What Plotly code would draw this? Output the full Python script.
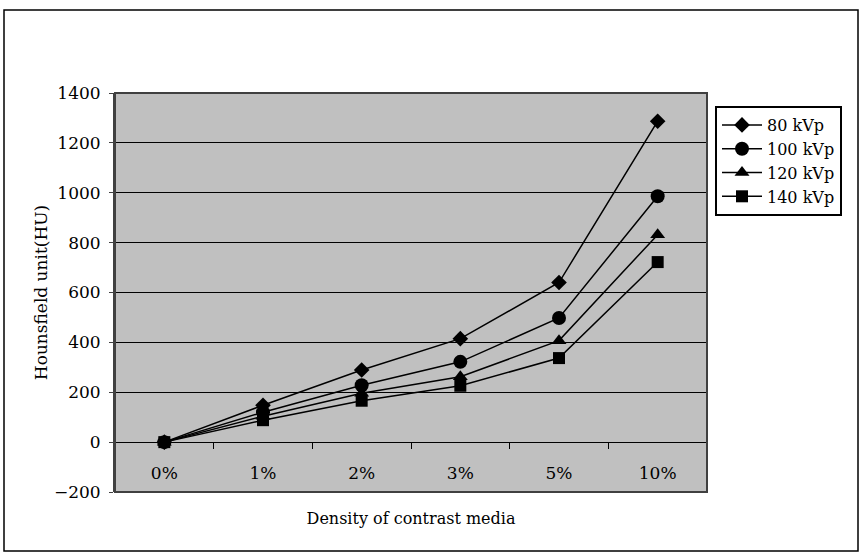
import plotly.graph_objects as go

categories = ["0%", "1%", "2%", "3%", "5%", "10%"]
kvp80 = [0, 148, 289, 415, 640, 1287]
kvp100 = [0, 120, 228, 322, 498, 986]
kvp120 = [0, 104, 196, 262, 407, 832]
kvp140 = [0, 88, 166, 226, 337, 722]
series_names = ["80 kVp", "100 kVp", "120 kVp", "140 kVp"]
y_ticks = [-200, 0, 200, 400, 600, 800, 1000, 1200, 1400]

FONT = "DejaVu Serif"
series = [kvp80, kvp100, kvp120, kvp140]
symbols = ["diamond", "circle", "triangle-up", "square"]
sizes = [12, 14, 13, 12]

fig = go.Figure()
for name, vals, sym, sz in zip(series_names, series, symbols, sizes):
    fig.add_trace(go.Scatter(
        x=categories, y=vals, name=name, mode="lines+markers",
        line=dict(color="black", width=1.5),
        marker=dict(symbol=sym, size=sz, color="black"),
    ))

fig.update_layout(
    width=861, height=560,
    margin=dict(l=115, r=154, t=93, b=68, autoexpand=False),
    paper_bgcolor="white",
    plot_bgcolor="#C0C0C0",
    font=dict(family=FONT, color="black", size=16),
    showlegend=True,
    legend=dict(
        xref="container", yref="container",
        x=715 / 861, y=1 - 106 / 560, xanchor="left", yanchor="top",
        bgcolor="white", bordercolor="black", borderwidth=2,
        font=dict(family=FONT, size=16), itemwidth=40,
        tracegroupgap=0,
    ),
    xaxis=dict(
        type="category", categoryorder="array", categoryarray=categories,
        range=[-0.5, 5.5], anchor="free", position=0.125,
        showgrid=False, showline=False, zeroline=False,
        ticks="outside", tickson="boundaries", ticklen=6, tickcolor="black",
        tickwidth=1, ticklabelstandoff=19,
        tickfont=dict(family=FONT, size=17),
        title=dict(text="Density of contrast media", standoff=30,
                   font=dict(family=FONT, size=16)),
    ),
    yaxis=dict(
        range=[-200, 1400], tickvals=y_ticks, showgrid=True,
        gridcolor="black", gridwidth=1.4, zeroline=False,
        showline=True, linecolor="#404040", linewidth=2,
        ticks="outside", ticklen=4, tickcolor="#404040",
        ticklabelstandoff=5,
        tickfont=dict(family=FONT, size=17),
        title=dict(text="Hounsfield unit(HU)", standoff=2,
                   font=dict(family=FONT, size=17)),
    ),
    shapes=[
        dict(type="rect", xref="paper", yref="paper", x0=0, x1=1, y0=0, y1=1,
             line=dict(color="#404040", width=2), layer="above"),
        dict(type="rect", xref="paper", yref="paper",
             x0=(4 - 115) / 592, x1=(858 - 115) / 592,
             y0=(492 - 551) / 399, y1=(492 - 10) / 399,
             line=dict(color="black", width=1.5)),
    ],
)

fig.write_html("out.html", config={"displayModeBar": False},
               post_script="document.body.style.margin='0';")
